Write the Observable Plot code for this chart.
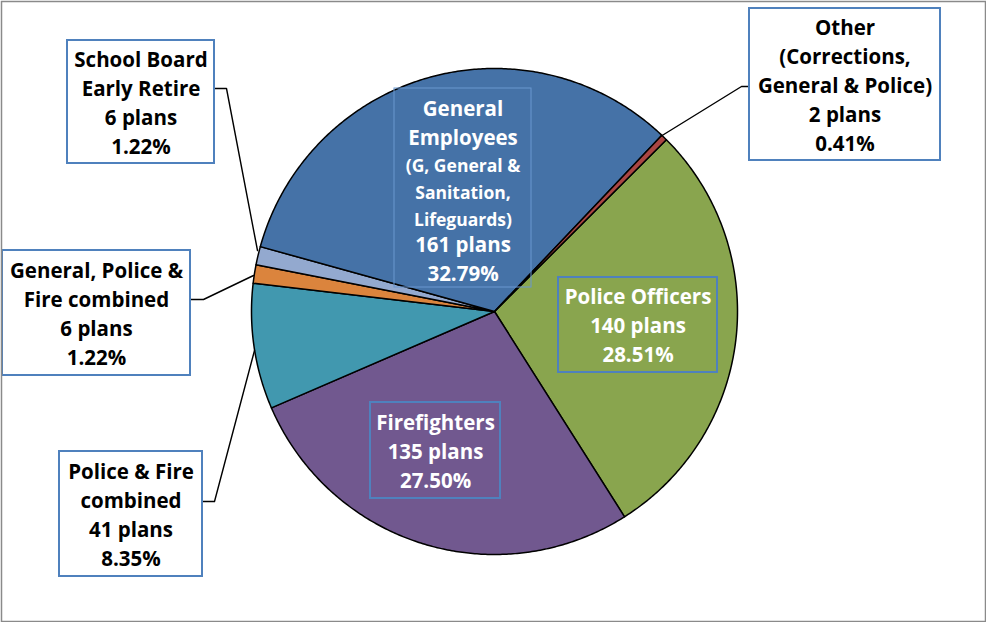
<!DOCTYPE html>
<html>
<head>
<meta charset="utf-8">
<script src="https://cdn.jsdelivr.net/npm/d3@7"></script>
<script src="https://cdn.jsdelivr.net/npm/@observablehq/plot@0.6"></script>
<style>
  html, body { margin: 0; padding: 0; background: #fff; }
  #chart svg { display: block; }
</style>
</head>
<body>
<div id="chart"></div>
<script>
// ---------- data ----------
const categories = ["Police Officers", "Firefighters", "Police & Fire combined",
  "General, Police & Fire combined", "School Board Early Retire", "General Employees", "Other"];
const plans = [140, 135, 41, 6, 6, 161, 2];
const percentLabels = ["28.51%", "27.50%", "8.35%", "1.22%", "1.22%", "32.79%", "0.41%"];
const sliceColors = ["#89A54E", "#71588F", "#4198AF", "#DB843D", "#93A9CF", "#4572A7", "#AA4643"];
const nameLines = [
  ["Police Officers"],
  ["Firefighters"],
  ["Police & Fire", "combined"],
  ["General, Police &", "Fire combined"],
  ["School Board", "Early Retire"],
  ["General", "Employees"],
  ["Other", "(Corrections,", "General & Police)"]
];
const geSubtitle = ["(G, General &", "Sanitation,", "Lifeguards)"];

// ---------- layout (pixels) ----------
const W = 986, H = 622, CX = 494, CY = 311, R = 243;
const startDeg = 45;
const FS = 20.5, LH = 29 / 20.5;
const toX = px => (px - CX) / R;
const toY = py => (py - CY) / R;

const boxes = [
  {i: 0, b: [558, 277, 717, 372], fill: "white", inside: true},
  {i: 1, b: [370, 402, 500, 498], fill: "white", inside: true},
  {i: 2, b: [59, 451, 202, 576], fill: "black", inside: false},
  {i: 3, b: [2, 250, 190, 375], fill: "black", inside: false},
  {i: 4, b: [67, 40, 214, 163], fill: "black", inside: false},
  {i: 5, b: [394, 88, 531, 287], fill: "white", inside: true},
  {i: 6, b: [749, 8, 940, 160], fill: "black", inside: false}
];
const leaders = {
  2: [[202, 501], [214, 501], [254, 350]],
  3: [[190, 299], [203, 299], [253, 275]],
  4: [[214, 88], [226, 88], [257, 250]],
  6: [[749, 86], [741, 86], [660, 136]]
};

// ---------- slice geometry ----------
const total = d3.sum(plans);
const slicePts = [];
let acc = 0;
plans.forEach((v, i) => {
  const a0 = startDeg + acc / total * 360;
  acc += v;
  const a1 = startDeg + acc / total * 360;
  slicePts.push({k: i, x: 0, y: 0, c: sliceColors[i]});
  const n = Math.max(2, Math.ceil((a1 - a0) / 0.5));
  for (let j = 0; j <= n; j++) {
    const a = (a0 + (a1 - a0) * j / n) * Math.PI / 180;
    slicePts.push({k: i, x: Math.sin(a), y: -Math.cos(a), c: sliceColors[i]});
  }
});

// ---------- label data ----------
const rects = boxes.map(d => ({
  x1: toX(d.b[0]), x2: toX(d.b[2]), y1: toY(d.b[1]), y2: toY(d.b[3]),
  inside: d.inside, ge: d.i === 5
}));
const texts = [];
boxes.forEach(d => {
  const cx = toX((d.b[0] + d.b[2]) / 2);
  if (d.i === 5) {
    texts.push({x: cx, y: toY(121), t: nameLines[5].join("\n"), s: FS, lh: LH, f: d.fill});
    texts.push({x: cx, y: toY(190), t: geSubtitle.join("\n"), s: 17.5, lh: 27 / 17.5, f: d.fill});
    texts.push({x: cx, y: toY(257), t: plans[5] + " plans\n" + percentLabels[5], s: FS, lh: LH, f: d.fill});
  } else {
    const lines = [...nameLines[d.i], plans[d.i] + " plans", percentLabels[d.i]];
    texts.push({x: cx, y: toY((d.b[1] + d.b[3]) / 2 - 1), t: lines.join("\n"), s: FS, lh: LH, f: d.fill});
  }
});
const leaderPts = [];
Object.entries(leaders).forEach(([k, pts]) => pts.forEach(p => leaderPts.push({k, x: toX(p[0]), y: toY(p[1])})));

const textMarks = d3.groups(texts, d => d.s).map(([s, arr]) =>
  Plot.text(arr, {x: "x", y: "y", text: "t", fontSize: s, fill: "f",
    fontWeight: "bold", lineHeight: arr[0].lh, lineAnchor: "middle", textAnchor: "middle"}));

const chart = Plot.plot({
  width: W, height: H,
  margin: 0,
  x: {domain: [toX(0), toX(W)], range: [0, W], axis: null},
  y: {domain: [toY(0), toY(H)], range: [0, H], axis: null},
  color: {type: "identity"},
  style: {fontFamily: "'Open Sans', 'DejaVu Sans', sans-serif", background: "white"},
  marks: [
    Plot.line(slicePts, {x: "x", y: "y", z: "k", fill: "c", stroke: "black", strokeWidth: 1.5,
      curve: "linear-closed", strokeLinejoin: "round"}),
    Plot.line(leaderPts, {x: "x", y: "y", z: "k", stroke: "black", strokeWidth: 1.4}),
    Plot.rect(rects.filter(d => !d.inside), {x1: "x1", x2: "x2", y1: "y1", y2: "y2",
      fill: "white", stroke: "#4F81BD", strokeWidth: 2}),
    Plot.rect(rects.filter(d => d.inside && !d.ge), {x1: "x1", x2: "x2", y1: "y1", y2: "y2",
      fill: "none", stroke: "#4F81BD", strokeWidth: 2}),
    Plot.rect(rects.filter(d => d.ge), {x1: "x1", x2: "x2", y1: "y1", y2: "y2",
      fill: "none", stroke: "#6A97D0", strokeWidth: 1}),
    ...textMarks,
    Plot.frame({stroke: "#8A8A8A", strokeWidth: 1.5, inset: 1})
  ]
});
document.getElementById("chart").append(chart);
</script>
</body>
</html>
